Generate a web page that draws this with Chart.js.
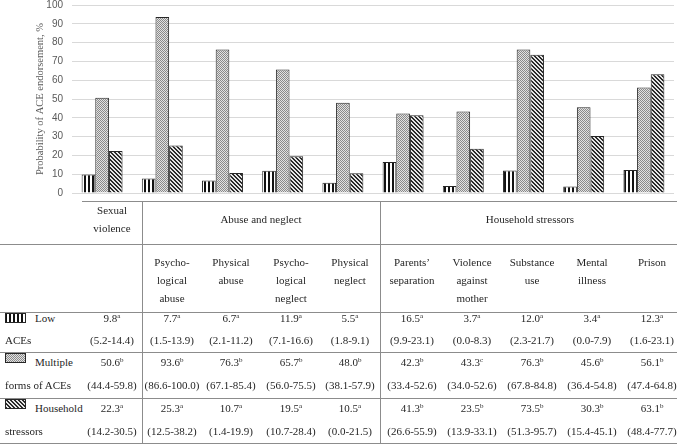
<!DOCTYPE html>
<html>
<head>
<meta charset="utf-8">
<script src="https://cdn.jsdelivr.net/npm/chart.js@4.4.1/dist/chart.umd.min.js"></script>
<style>
  body { margin: 0; background: #fff; }
  #wrap { position: relative; width: 677px; height: 445px; background: #fff; overflow: hidden; }
  #chartBox { position: absolute; left: 0; top: 0; width: 677px; }
  #chartBox canvas { display: block; }
  .t { position: absolute; font-family: "Liberation Serif", serif; font-size: 11px; line-height: 14px; color: #262626; white-space: nowrap; }
  .c { width: 90px; text-align: center; }
  .sup { font-size: 7px; position: relative; top: -4px; }
  .hl { position: absolute; height: 1px; background: #8c8c8c; }
  .vl { position: absolute; width: 1px; background: #8c8c8c; }
  .sw { position: absolute; }
</style>
</head>
<body>
<div id="wrap">
  <div id="chartBox"><canvas id="grafica" width="677" height="200"></canvas></div>
</div>
<script>
// categorias y valores
const categorias = ['Sexual violence', 'Psychological abuse', 'Physical abuse', 'Psychological neglect', 'Physical neglect',
    "Parents' separation", 'Violence against mother', 'Substance use', 'Mental illness', 'Prison'];
const grupos = [
    { texto: ['Sexual', 'violence'], desde: 0, hasta: 0 },
    { texto: ['Abuse and neglect'], desde: 1, hasta: 4 },
    { texto: ['Household stressors'], desde: 5, hasta: 9 }
];
const subtitulos = [[], ['Psycho-', 'logical', 'abuse'], ['Physical', 'abuse'], ['Psycho-', 'logical', 'neglect'],
    ['Physical', 'neglect'], ['Parents’', 'separation'], ['Violence', 'against', 'mother'], ['Substance', 'use'],
    ['Mental', 'illness'], ['Prison']];

const serieNombres = [['Low', 'ACEs'], ['Multiple', 'forms of ACEs'], ['Household', 'stressors']];

const bajo = [9.8, 7.7, 6.7, 11.9, 5.5, 16.5, 3.7, 12.0, 3.4, 12.3];
const bajoSup = ['a', 'a', 'a', 'a', 'a', 'a', 'a', 'a', 'a', 'a'];
const bajoIC = ['5.2-14.4', '1.5-13.9', '2.1-11.2', '7.1-16.6', '1.8-9.1', '9.9-23.1', '0.0-8.3', '2.3-21.7', '0.0-7.9', '1.6-23.1'];

const multiple = [50.6, 93.6, 76.3, 65.7, 48.0, 42.3, 43.3, 76.3, 45.6, 56.1];
const multipleSup = ['b', 'b', 'b', 'b', 'b', 'b', 'c', 'b', 'b', 'b'];
const multipleIC = ['44.4-59.8', '86.6-100.0', '67.1-85.4', '56.0-75.5', '38.1-57.9', '33.4-52.6', '34.0-52.6', '67.8-84.8', '36.4-54.8', '47.4-64.8'];

const hogar = [22.3, 25.3, 10.7, 19.5, 10.5, 41.3, 23.5, 73.5, 30.3, 63.1];
const hogarSup = ['a', 'a', 'a', 'a', 'a', 'b', 'b', 'b', 'b', 'b'];
const hogarIC = ['14.2-30.5', '12.5-38.2', '1.4-19.9', '10.7-28.4', '0.0-21.5', '26.6-55.9', '13.9-33.1', '51.3-95.7', '15.4-45.1', '48.4-77.7'];

const ejeY = { min: 0, max: 100, paso: 10, titulo: 'Probability of ACE endorsement, %' };

// texturas de las barras
function crearPatron(tipo) {
    const c = document.createElement('canvas');
    c.width = 4; c.height = 4;
    const g = c.getContext('2d');
    for (let x = 0; x < 4; x++) {
        for (let y = 0; y < 4; y++) {
            let col;
            if (tipo === 'rayas') col = x < 2 ? '#111' : '#fff';
            else if (tipo === 'puntos') col = (x + y) % 2 === 0 ? '#8a8a8a' : '#e2e2e2';
            else col = ((x - y + 8) % 4) < 2 ? '#2a2a2a' : '#e6e6e6';
            g.fillStyle = col;
            g.fillRect(x, y, 1, 1);
        }
    }
    return c;
}

const tipos = ['rayas', 'puntos', 'diagonal'];
const canvas = document.getElementById('grafica');
const ctxChart = canvas.getContext('2d');
const patrones = tipos.map(t => ctxChart.createPattern(crearPatron(t), 'repeat'));

function dibujar() {
    return new Chart(ctxChart, {
        type: 'bar',
        data: {
            labels: categorias,
            datasets: [bajo, multiple, hogar].map((d, i) => ({
                label: serieNombres[i].join(' '),
                data: d,
                backgroundColor: patrones[i],
                borderColor: '#262626',
                borderWidth: 1,
                categoryPercentage: 0.68,
                barPercentage: 1
            }))
        },
        options: {
            responsive: false,
            animation: false,
            layout: { padding: { left: 34, right: 3, top: 0, bottom: 7 } },
            plugins: { legend: { display: false }, tooltip: { enabled: false } },
            scales: {
                x: { display: false },
                y: {
                    min: ejeY.min, max: ejeY.max,
                    ticks: { stepSize: ejeY.paso, padding: 9, color: '#595959', font: { family: 'Liberation Sans', size: 10 } },
                    grid: { color: '#d9d9d9', drawTicks: false },
                    border: { display: false },
                    title: { display: true, text: ejeY.titulo, color: '#595959', padding: { top: 0, bottom: 0 },
                        font: { family: 'Liberation Serif', size: 10.5 } },
                    afterFit: s => { s.width = 38; }
                }
            }
        }
    });
}

// primera pasada para medir el margen, luego se ajusta el alto para que el area vaya de y=5 a y=193
let grafica = dibujar();
const sobra = grafica.chartArea.top + (canvas.height - grafica.chartArea.bottom);
grafica.destroy();
canvas.width = 677;
canvas.height = Math.round(188 + sobra);
grafica = dibujar();
document.getElementById('chartBox').style.top = Math.round(5 - grafica.chartArea.top) + 'px';

// tabla de debajo
const wrap = document.getElementById('wrap');
const colX = [112, 172, 231, 291, 350, 412, 472, 532, 592, 652];
const filas = [312, 352, 398, 443];

function linea(cls, x, y, largo) {
    const d = document.createElement('div');
    d.className = cls;
    d.style.left = x + 'px';
    d.style.top = y + 'px';
    if (cls === 'hl') d.style.width = largo + 'px'; else d.style.height = largo + 'px';
    wrap.appendChild(d);
}
function texto(html, x, y, centrado) {
    const d = document.createElement('div');
    d.className = centrado ? 't c' : 't';
    d.innerHTML = html;
    d.style.left = (centrado ? x - 45 : x) + 'px';
    d.style.top = (y - 7) + 'px';
    wrap.appendChild(d);
}

linea('hl', 82, 201, 595);
linea('hl', 0, 244, 677);
filas.forEach(y => linea('hl', 0, y, 677));
linea('vl', 142, 201, 243);
linea('vl', 380, 201, 243);

// cabecera de grupos
texto(grupos[0].texto[0], colX[0], 210, true);
texto(grupos[0].texto[1], colX[0], 228, true);
texto(grupos[1].texto[0], 261, 219, true);
texto(grupos[2].texto[0], 530, 219, true);

subtitulos.forEach((lns, i) => lns.forEach((l, k) => texto(l, colX[i], 262 + k * 18, true)));

const series = [[bajo, bajoSup, bajoIC], [multiple, multipleSup, multipleIC], [hogar, hogarSup, hogarIC]];
const textoY = [[318, 340], [362, 385], [408, 431]];
series.forEach(([vals, sups, ics], s) => {
    const top = filas[s];
    const sw = document.createElement('canvas');
    sw.className = 'sw';
    sw.width = 21; sw.height = 10;
    sw.style.left = '5px';
    sw.style.top = (top + 1) + 'px';
    const g = sw.getContext('2d');
    g.fillStyle = g.createPattern(crearPatron(tipos[s]), 'repeat');
    g.fillRect(0, 0, 21, 10);
    g.strokeStyle = '#262626';
    g.strokeRect(0.5, 0.5, 20, 9);
    wrap.appendChild(sw);
    const [y1, y2] = textoY[s];
    texto(serieNombres[s][0], 35, y1, false);
    texto(serieNombres[s][1], 5, y2, false);
    vals.forEach((v, i) => {
        texto(v.toFixed(1) + '<span class="sup">' + sups[i] + '</span>', colX[i], y1, true);
        texto('(' + ics[i] + ')', colX[i], y2, true);
    });
});
</script>
</body>
</html>
